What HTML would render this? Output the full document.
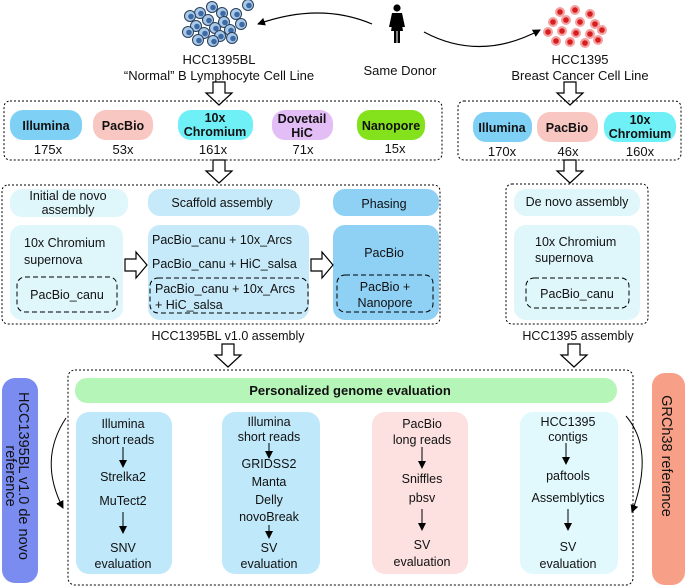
<!DOCTYPE html>
<html><head><meta charset="utf-8"><style>
html,body{margin:0;padding:0;background:#fff;}
svg{display:block;font-family:"Liberation Sans",Arial,sans-serif;}
</style></head><body>
<svg width="685" height="588" viewBox="0 0 685 588" xmlns="http://www.w3.org/2000/svg">
<defs>
<marker id="ah" markerWidth="8" markerHeight="8" refX="7" refY="4" orient="auto" markerUnits="userSpaceOnUse"><path d="M0,0 L8,4 L0,8 z" fill="#000"/></marker>
<g id="dn"><polygon points="-6,0 6,0 6,11 13,11 0,23 -13,11 -6,11" fill="#fff" stroke="#000" stroke-width="1.2"/></g>
<g id="rt"><polygon points="0,-6 11,-6 11,-13 22,0 11,13 11,6 0,6" fill="#fff" stroke="#000" stroke-width="1.2"/></g>
<g id="bc"><circle r="5.5" fill="#a9c9e8" stroke="#2a3f5c" stroke-width="1"/><circle r="2.8" cx="1" cy="0.5" fill="#3d6aa5"/></g>
<g id="rc"><circle r="5" fill="#f4a0a0"/><circle r="2.8" fill="#d71d1d"/></g>
</defs>

<g>
<use href="#bc" x="212" y="7"/><use href="#bc" x="248" y="5"/><use href="#bc" x="222" y="13"/><use href="#bc" x="200" y="13"/>
<use href="#bc" x="190" y="16"/><use href="#bc" x="208" y="20"/><use href="#bc" x="224" y="22"/><use href="#bc" x="236" y="14"/>
<use href="#bc" x="241" y="24"/><use href="#bc" x="196" y="26"/><use href="#bc" x="215" y="28"/><use href="#bc" x="230" y="30"/>
<use href="#bc" x="188" y="32"/><use href="#bc" x="204" y="33"/><use href="#bc" x="220" y="36"/><use href="#bc" x="232" y="38"/>
<use href="#bc" x="213" y="41"/><use href="#bc" x="198" y="40"/>
</g>
<g>
<use href="#rc" x="560" y="12"/><use href="#rc" x="575" y="10"/><use href="#rc" x="590" y="14"/><use href="#rc" x="553" y="22"/>
<use href="#rc" x="566" y="20"/><use href="#rc" x="580" y="22"/><use href="#rc" x="595" y="24"/><use href="#rc" x="548" y="32"/>
<use href="#rc" x="562" y="31"/><use href="#rc" x="576" y="33"/><use href="#rc" x="590" y="34"/><use href="#rc" x="602" y="30"/>
<use href="#rc" x="556" y="41"/><use href="#rc" x="570" y="42"/><use href="#rc" x="585" y="43"/><use href="#rc" x="598" y="40"/>
</g>
<g fill="#000">
<circle cx="397" cy="8" r="3.6"/>
<path d="M392,13 h10 l3,14 h-3 l-1,-8 l2,12 h-3 v12 h-2.5 v-12 h-1 v12 h-2.5 v-12 h-3 l2,-12 l-1,8 h-3 z"/>
</g>
<path d="M372,24 Q320,2 258,24" fill="none" stroke="#000" stroke-width="1.2" marker-end="url(#ah)"/>
<path d="M424,32 Q480,62 540,30" fill="none" stroke="#000" stroke-width="1.2" marker-end="url(#ah)"/>

<g font-size="13" text-anchor="middle" fill="#111">
<text x="219" y="64">HCC1395BL</text>
<text x="219" y="80">“Normal” B Lymphocyte Cell Line</text>
<text x="400" y="75">Same Donor</text>
<text x="580" y="64">HCC1395</text>
<text x="580" y="80">Breast Cancer Cell Line</text>
</g>

<use href="#dn" x="219" y="82"/>
<use href="#dn" x="570" y="82"/>

<rect x="4" y="101" width="438" height="59" rx="6" fill="none" stroke="#000" stroke-dasharray="2,2"/>
<rect x="10" y="110" width="72" height="30" rx="13" fill="#7fd0f5"/>
<rect x="93" y="110" width="60" height="30" rx="13" fill="#f9c7c2"/>
<rect x="178" y="110" width="75" height="30" rx="13" fill="#6ff0f6"/>
<rect x="272" y="110" width="61" height="30" rx="13" fill="#e3bdf5"/>
<rect x="357" y="110" width="68" height="30" rx="13" fill="#84e21c"/>
<rect x="458" y="101" width="223" height="59" rx="6" fill="none" stroke="#000" stroke-dasharray="2,2"/>
<rect x="473" y="112" width="59" height="30" rx="13" fill="#7fd0f5"/>
<rect x="537" y="112" width="61" height="30" rx="13" fill="#f9c7c2"/>
<rect x="604" y="112" width="72" height="30" rx="13" fill="#6ff0f6"/>
<g font-size="12.5" font-weight="bold" text-anchor="middle" fill="#111">
<text x="46" y="130">Illumina</text>
<text x="123" y="130">PacBio</text>
<text x="215" y="122">10x</text><text x="215" y="136">Chromium</text>
<text x="302" y="123">Dovetail</text><text x="302" y="137">HiC</text>
<text x="391" y="130">Nanopore</text>
<text x="502" y="132">Illumina</text>
<text x="567" y="132">PacBio</text>
<text x="640" y="124">10x</text><text x="640" y="138">Chromium</text>
</g>
<g font-size="13" text-anchor="middle" fill="#111">
<text x="48" y="154">175x</text><text x="123" y="154">53x</text><text x="213" y="154">161x</text><text x="303" y="154">71x</text><text x="395" y="153">15x</text>
<text x="502" y="156">170x</text><text x="568" y="156">46x</text><text x="640" y="156">160x</text>
</g>

<use href="#dn" x="219" y="160"/>
<use href="#dn" x="570" y="160"/>

<rect x="2" y="185" width="438" height="139" rx="6" fill="none" stroke="#000" stroke-dasharray="2,2"/>
<rect x="10" y="189" width="118" height="28" rx="12" fill="#dff6fb"/>
<rect x="148" y="189" width="152" height="27" rx="12" fill="#c6eaf9"/>
<rect x="333" y="189" width="106" height="27" rx="12" fill="#8fd0f5"/>
<rect x="10" y="225" width="113" height="95" rx="12" fill="#dff6fb"/>
<rect x="148" y="225" width="161" height="95" rx="12" fill="#c6eaf9"/>
<rect x="333" y="225" width="106" height="95" rx="12" fill="#8fd0f5"/>
<rect x="17" y="277" width="100" height="35" rx="8" fill="none" stroke="#000" stroke-dasharray="5,3"/>
<rect x="150" y="278" width="158" height="35" rx="8" fill="none" stroke="#000" stroke-dasharray="5,3"/>
<rect x="337" y="275" width="96" height="37" rx="8" fill="none" stroke="#000" stroke-dasharray="5,3"/>
<use href="#rt" x="125" y="265"/>
<use href="#rt" x="311" y="265"/>
<g font-size="12.5" fill="#111">
<text x="68" y="200" text-anchor="middle">Initial de novo</text>
<text x="68" y="214" text-anchor="middle">assembly</text>
<text x="222" y="207" text-anchor="middle">Scaffold assembly</text>
<text x="384" y="208" text-anchor="middle">Phasing</text>
<text x="24" y="247">10x Chromium</text>
<text x="24" y="264">supernova</text>
<text x="67" y="299" text-anchor="middle">PacBio_canu</text>
<text x="152" y="244">PacBio_canu + 10x_Arcs</text>
<text x="152" y="268">PacBio_canu + HiC_salsa</text>
<text x="155" y="293">PacBio_canu + 10x_Arcs</text>
<text x="155" y="309">+ HiC_salsa</text>
<text x="384" y="257" text-anchor="middle">PacBio</text>
<text x="385" y="291" text-anchor="middle">PacBio +</text>
<text x="385" y="307" text-anchor="middle">Nanopore</text>
<text x="228" y="340" text-anchor="middle">HCC1395BL v1.0 assembly</text>
</g>

<rect x="506" y="184" width="142" height="140" rx="6" fill="none" stroke="#000" stroke-dasharray="2,2"/>
<rect x="514" y="189" width="126" height="27" rx="12" fill="#dff6fb"/>
<rect x="514" y="225" width="126" height="95" rx="12" fill="#dff6fb"/>
<rect x="526" y="278" width="103" height="30" rx="8" fill="none" stroke="#000" stroke-dasharray="5,3"/>
<g font-size="12.5" fill="#111">
<text x="577" y="206" text-anchor="middle">De novo assembly</text>
<text x="535" y="246">10x Chromium</text>
<text x="535" y="262">supernova</text>
<text x="577" y="298" text-anchor="middle">PacBio_canu</text>
<text x="578" y="340" text-anchor="middle">HCC1395 assembly</text>
</g>

<use href="#dn" x="228" y="344"/>
<use href="#dn" x="574" y="344"/>

<rect x="68" y="370" width="565" height="215" rx="7" fill="none" stroke="#000" stroke-dasharray="2,2"/>
<rect x="75" y="378" width="542" height="25" rx="12" fill="#b6f5b8"/>
<text x="350" y="395" font-size="13" font-weight="bold" text-anchor="middle" fill="#111">Personalized genome evaluation</text>
<rect x="76" y="412" width="96" height="162" rx="13" fill="#bfe8fa"/>
<rect x="222" y="412" width="98" height="162" rx="13" fill="#bfe8fa"/>
<rect x="372" y="412" width="96" height="162" rx="13" fill="#fde0e0"/>
<rect x="520" y="412" width="98" height="162" rx="13" fill="#e1f9fd"/>
<g stroke="#000" stroke-width="1" marker-end="url(#ah)">
<line x1="123" y1="447" x2="123" y2="467"/>
<line x1="123" y1="512" x2="123" y2="533"/>
<line x1="269" y1="443" x2="269" y2="458"/>
<line x1="269" y1="525" x2="269" y2="538"/>
<line x1="422" y1="447" x2="422" y2="468"/>
<line x1="422" y1="509" x2="422" y2="530"/>
<line x1="566" y1="443" x2="566" y2="464"/>
<line x1="568" y1="509" x2="568" y2="530"/>
</g>
<g font-size="12.5" text-anchor="middle" fill="#111">
<text x="123" y="428">Illumina</text><text x="123" y="444">short reads</text>
<text x="123" y="481">Strelka2</text><text x="123" y="505">MuTect2</text>
<text x="123" y="552">SNV</text><text x="123" y="568">evaluation</text>
<text x="269" y="426">Illumina</text><text x="269" y="441">short reads</text>
<text x="269" y="468">GRIDSS2</text><text x="269" y="486">Manta</text>
<text x="269" y="504">Delly</text><text x="269" y="521">novoBreak</text>
<text x="269" y="552">SV</text><text x="269" y="568">evaluation</text>
<text x="422" y="428">PacBio</text><text x="422" y="444">long reads</text>
<text x="422" y="483">Sniffles</text><text x="422" y="502">pbsv</text>
<text x="422" y="549">SV</text><text x="422" y="566">evaluation</text>
<text x="568" y="426">HCC1395</text><text x="568" y="441">contigs</text>
<text x="568" y="480">paftools</text><text x="568" y="502">Assemblytics</text>
<text x="568" y="551">SV</text><text x="568" y="568">evaluation</text>
</g>

<rect x="2" y="378" width="36" height="205" rx="13" fill="#7b8cf0"/>
<rect x="652" y="373" width="33" height="212" rx="13" fill="#f79f87"/>
<g font-size="14.5" fill="#111" text-anchor="middle">
<text transform="translate(19,476) rotate(90)">HCC1395BL v1.0 de novo</text>
<text transform="translate(6,476) rotate(90)">reference</text>
<text transform="translate(662,456) rotate(90)">GRCh38 reference</text>
</g>
<path d="M66,418 Q38,460 63,508" fill="none" stroke="#000" stroke-width="1" marker-end="url(#ah)"/>
<path d="M626,416 Q655,450 632,512" fill="none" stroke="#000" stroke-width="1" marker-end="url(#ah)"/>
</svg>
</body></html>
